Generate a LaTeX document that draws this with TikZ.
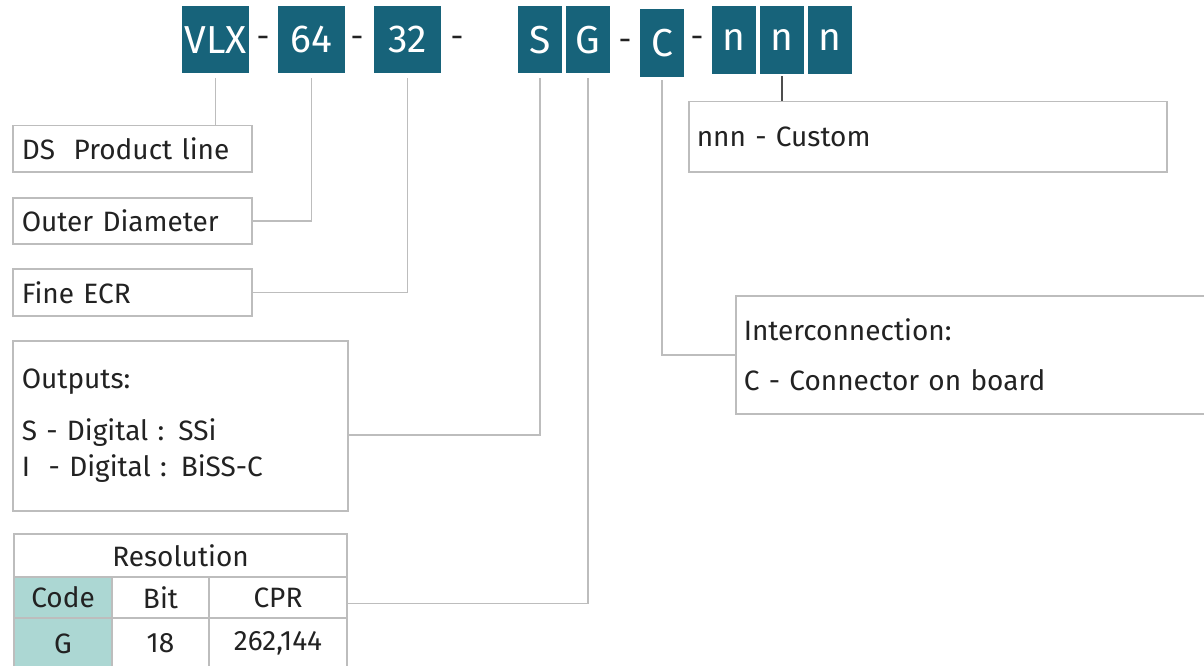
\documentclass[tikz,border=0pt]{standalone}
\usepackage{fontspec}
\setmainfont{Fira Sans}

\definecolor{codeblue}{HTML}{17637A}
\definecolor{codemint}{HTML}{ACD7D3}
\definecolor{framegray}{HTML}{BDBDBD}
\definecolor{inkgray}{HTML}{222222}

\tikzset{
  seg/.style={fill=codeblue, text=white, inner sep=0pt, minimum width=44pt, minimum height=67pt, anchor=north west, font=\fontsize{39}{39}\selectfont},
  sep/.style={text=inkgray, inner sep=0pt, font=\fontsize{32}{32}\selectfont},
  infobox/.style={draw=framegray, line width=1.5pt, anchor=north west, inner xsep=9pt, inner ysep=0pt, align=left, text=inkgray, font=\fontsize{28}{36}\selectfont},
  link/.style={draw=framegray, line width=1.5pt},
  cell/.style={draw=framegray, line width=2pt, anchor=north west, inner sep=0pt, text=inkgray, font=\fontsize{28}{28}\selectfont},
}

\begin{document}
\begin{tikzpicture}[x=1pt,y=-1pt]
    \useasboundingbox[fill=white] (0,0) rectangle (1204,666);
    % Code segments
    \node at (182,6) [seg, minimum width=67pt] (vlx) {VLX};
    \node at (263,42) [sep] (m1) {-};
    \node at (278,6) [seg, minimum width=67pt] (d64) {64};
    \node at (357,42) [sep] (m2) {-};
    \node at (374,6) [seg, minimum width=67pt] (d32) {32};
    \node at (457,42) [sep] (m3) {-};
    \node at (518,6) [seg] (s) {S};
    \node at (566,6) [seg] (g) {G};
    \node at (625,45) [sep] (m4) {-};
    \node at (640,9) [seg, minimum height=68pt] (c) {C};
    \node at (697,42) [sep] (m5) {-};
    \node at (712,6) [seg, minimum height=68pt] (n1) {n};
    \node at (760,6) [seg, minimum height=68pt] (n2) {n};
    \node at (808,6) [seg, minimum height=68pt] (n3) {n};
    % Left column
    \node at (12,125) [infobox, text width=221pt, minimum height=46pt] (ds) {DS\ \ Product line};
    \node at (12,197) [infobox, text width=221pt, minimum height=46pt] (od) {Outer Diameter};
    \node at (12,268) [infobox, text width=221pt, minimum height=47pt] (fe) {Fine ECR};
    \node at (12,340) [infobox, text width=317pt, minimum height=170pt] (out)
        {Outputs:\\[16pt] S - Digital : SSi\\ I\ \ - Digital : BiSS-C};
    % Resolution table
    \node at (13,533) [cell, minimum width=333pt, minimum height=43pt] (res) {Resolution};
    \node at (13,576) [cell, fill=codemint, minimum width=98pt, minimum height=41pt] (code) {Code};
    \node at (111,576) [cell, minimum width=97pt, minimum height=41pt] (bit) {Bit};
    \node at (208,576) [cell, minimum width=138pt, minimum height=41pt] (cpr) {CPR};
    \node at (13,617) [cell, fill=codemint, minimum width=98pt, minimum height=51pt] (gval) {G};
    \node at (111,617) [cell, minimum width=97pt, minimum height=51pt] (bval) {18};
    \node at (208,617) [cell, minimum width=138pt, minimum height=51pt] (cval) {262,144};
    % Right column
    \node at (688,101) [infobox, inner xsep=8pt, text width=462pt, minimum height=70pt] (nnn) {nnn - Custom};
    \node at (735,295) [infobox, inner xsep=8pt, text width=480pt, minimum height=118pt] (ic)
        {Interconnection:\\[14pt] C - Connector on board};
    % Leaders
    \draw[link] ([yshift=-5pt]vlx.south) -- (vlx.south |- ds.north);
    \draw[link] ([yshift=-5pt]d64.south) |- (od.east);
    \draw[link] ([yshift=-5pt]d32.south) |- (fe.east);
    \draw[link] ([yshift=-5pt]s.south) |- ([yshift=-9pt]out.east);
    \draw[link] ([yshift=-5pt]g.south) |- ([yshift=-6pt]cpr.east);
    \draw[link] ([yshift=-3pt]c.south) |- (ic.west);
    \draw[line width=1.5pt, draw=inkgray!80] ([yshift=-2pt]n2.south) -- (n2.south |- nnn.north);
\end{tikzpicture}
\end{document}
